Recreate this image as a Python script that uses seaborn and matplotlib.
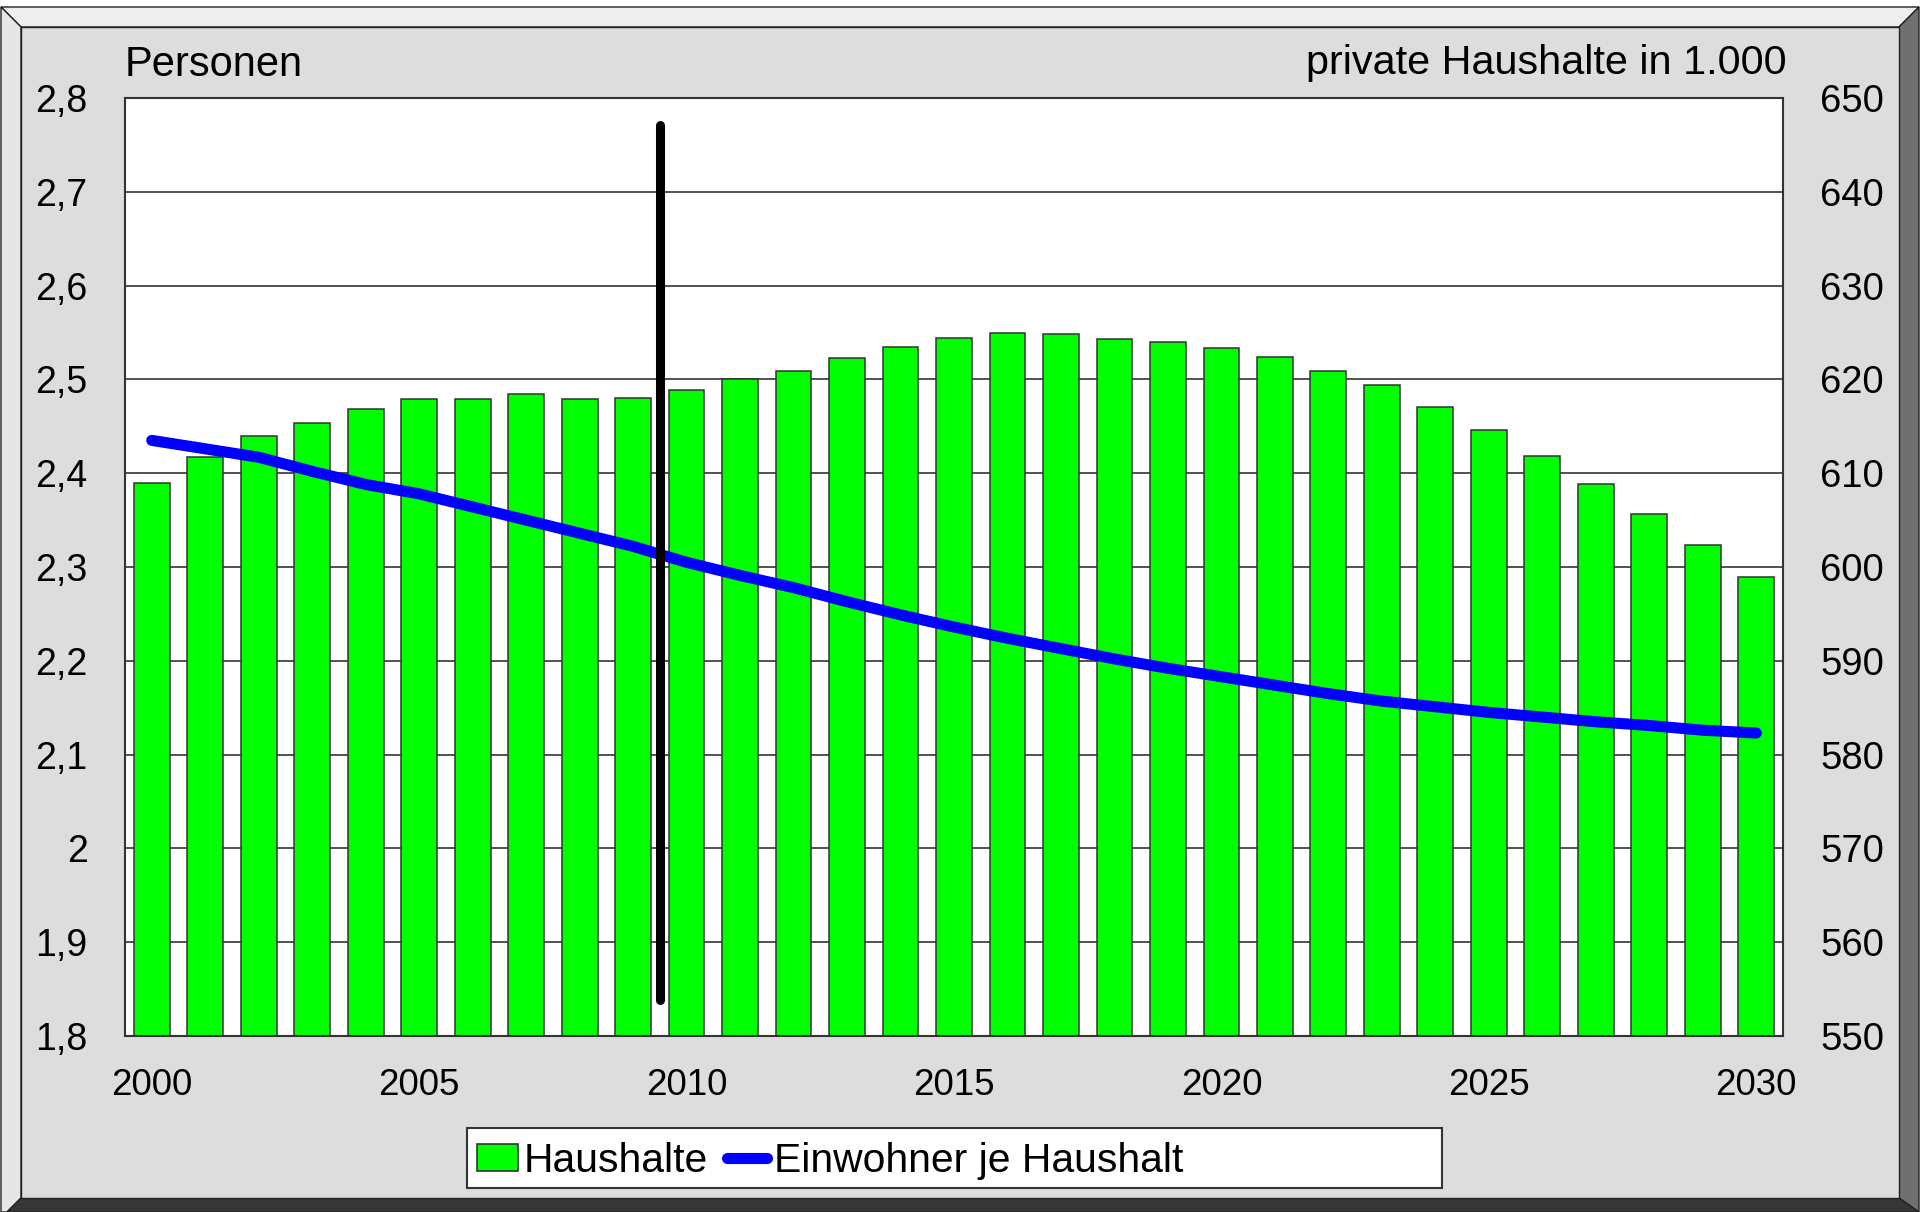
import matplotlib
matplotlib.use("Agg")
import matplotlib.pyplot as plt
from matplotlib.patches import Polygon, Rectangle, Patch
from matplotlib.lines import Line2D
import seaborn as sns
import pandas as pd

# ---- data ----
years = list(range(2000, 2031))
haushalte = [609.0, 611.7, 614.0, 615.4, 616.8, 617.9, 617.9, 618.4, 617.9, 618.0,
             618.9, 620.0, 620.9, 622.3, 623.5, 624.4, 624.9, 624.8, 624.3, 624.0,
             623.4, 622.4, 620.9, 619.4, 617.1, 614.6, 611.8, 608.8, 605.7, 602.3,
             598.9]
einwohner_je_hh = [2.435, 2.426, 2.417, 2.402, 2.388, 2.378, 2.364, 2.350, 2.336, 2.322,
                   2.305, 2.291, 2.278, 2.263, 2.249, 2.236, 2.224, 2.213, 2.202, 2.192,
                   2.183, 2.174, 2.165, 2.157, 2.151, 2.145, 2.140, 2.135, 2.131, 2.126,
                   2.123]
left_ticks = [1.8, 1.9, 2.0, 2.1, 2.2, 2.3, 2.4, 2.5, 2.6, 2.7, 2.8]
left_labels = ["1,8", "1,9", "2", "2,1", "2,2", "2,3", "2,4", "2,5", "2,6", "2,7", "2,8"]
right_ticks = [550, 560, 570, 580, 590, 600, 610, 620, 630, 640, 650]
x_ticks = [2000, 2005, 2010, 2015, 2020, 2025, 2030]
marker_year = 2009.5
marker_range = [1.838, 2.771]
label_left = "Personen"
label_right = "private Haushalte in 1.000"
series_names = ["Haushalte", "Einwohner je Haushalt"]

df = pd.DataFrame({"Jahr": years, "Haushalte": haushalte, "EW": einwohner_je_hh})

sns.set_style("white")
plt.rcParams["font.family"] = ["Liberation Sans", "DejaVu Sans"]
plt.rcParams["text.color"] = "black"
plt.rcParams["xtick.color"] = "black"
plt.rcParams["ytick.color"] = "black"
plt.rcParams["axes.labelcolor"] = "black"

W, H = 1920, 1212
fig = plt.figure(figsize=(W / 100, H / 100), dpi=100)
fig.patch.set_facecolor("white")

# ---- 3D frame background ----
bg = fig.add_axes([0, 0, 1, 1], zorder=-10)
bg.set_xlim(0, W)
bg.set_ylim(H, 0)
bg.axis("off")
ec = "#222222"
bg.add_patch(Polygon([(1, 7), (1919, 7), (1899, 27), (21, 27)], closed=True,
                     facecolor="#eeeeee", edgecolor=ec, lw=1))
bg.add_patch(Polygon([(1, 7), (21, 27), (21, 1198), (7, 1212), (1, 1212)], closed=True,
                     facecolor="#e6e6e6", edgecolor=ec, lw=1))
bg.add_patch(Polygon([(1919, 7), (1899, 27), (1899, 1198), (1919, 1212)], closed=True,
                     facecolor="#707070", edgecolor=ec, lw=1))
bg.add_patch(Polygon([(21, 1198), (1899, 1198), (1919, 1212), (7, 1212)], closed=True,
                     facecolor="#363636", edgecolor=ec, lw=1))
bg.add_patch(Rectangle((21, 27), 1878, 1171, facecolor="#dddddd", edgecolor=ec, lw=1))
# legend box
bg.add_patch(Rectangle((467, 1128), 975, 60, facecolor="white", edgecolor="#333333", lw=1.5))

# ---- main axes ----
ax_l, ax_t, ax_r, ax_b = 125, 98, 1783, 1036
ax = fig.add_axes([ax_l / W, 1 - ax_b / H, (ax_r - ax_l) / W, (ax_b - ax_t) / H])
ax.set_facecolor("white")

sns.barplot(data=df, x="Jahr", y="Haushalte", native_scale=True, ax=ax,
            color="#00ff00", saturation=1, width=0.67,
            edgecolor="#333333", linewidth=1.1, zorder=2)
ax.set_xlim(years[0] - 0.5, years[-1] + 0.5)
ax.set_ylim(right_ticks[0], right_ticks[-1])
ax.set_xticks(x_ticks)
ax.set_xticklabels([str(t) for t in x_ticks])
ax.set_xlabel("")
ax.set_ylabel("")
ax.set_axisbelow(True)
ax.grid(axis="y", color="#333333", lw=1.2)
ax.grid(axis="x", visible=False)
for s in ax.spines.values():
    s.set_color("#333333")
    s.set_linewidth(1.5)

ax2 = ax.twinx()
sns.lineplot(data=df, x="Jahr", y="EW", ax=ax2, color="#0000ff", lw=8,
             solid_capstyle="round", zorder=3)
ax2.plot([marker_year, marker_year], marker_range, color="black", lw=6.5,
         solid_capstyle="round", zorder=4)
ax2.set_ylim(left_ticks[0], left_ticks[-1])
ax2.set_yticks(left_ticks)
ax2.set_yticklabels(left_labels)
ax2.yaxis.tick_left()
ax2.set_ylabel("")
ax2.set_xlabel("")
ax2.tick_params(axis="y", length=0, pad=27, labelsize=27, colors="black")
for s in ax2.spines.values():
    s.set_visible(False)

# right axis for bars (after twinx, which resets tick side)
ax.yaxis.tick_right()
ax.set_yticks(right_ticks)
ax.set_yticklabels([str(t) for t in right_ticks])
ax.tick_params(axis="y", which="both", left=False, right=False, labelleft=False,
               labelright=True, length=0, pad=27, labelsize=27.5, colors="black")
ax.tick_params(axis="x", length=0, pad=23, labelsize=26.5, colors="black")

# axis titles
fig.text(ax_l / W, 1 - 76 / H, label_left, fontsize=30, ha="left", va="baseline",
         color="black")
fig.text(1787 / W, 1 - 74 / H, label_right, fontsize=29.8, ha="right", va="baseline",
         color="black")

# legend
handles = [Patch(facecolor="#00ff00", edgecolor="#333333", lw=1.2),
           Line2D([0], [0], color="#0000ff", lw=8, solid_capstyle="round")]
fig.legend(handles, series_names, ncol=2, frameon=False, fontsize=29.4,
           loc="center left", bbox_to_anchor=(477 / W, 1 - 1161 / H),
           handlelength=1.0, handleheight=0.62, handletextpad=0.15,
           columnspacing=0.45, borderpad=0, borderaxespad=0, labelcolor="black")

fig.savefig("out.png", dpi=100, facecolor=fig.get_facecolor())
